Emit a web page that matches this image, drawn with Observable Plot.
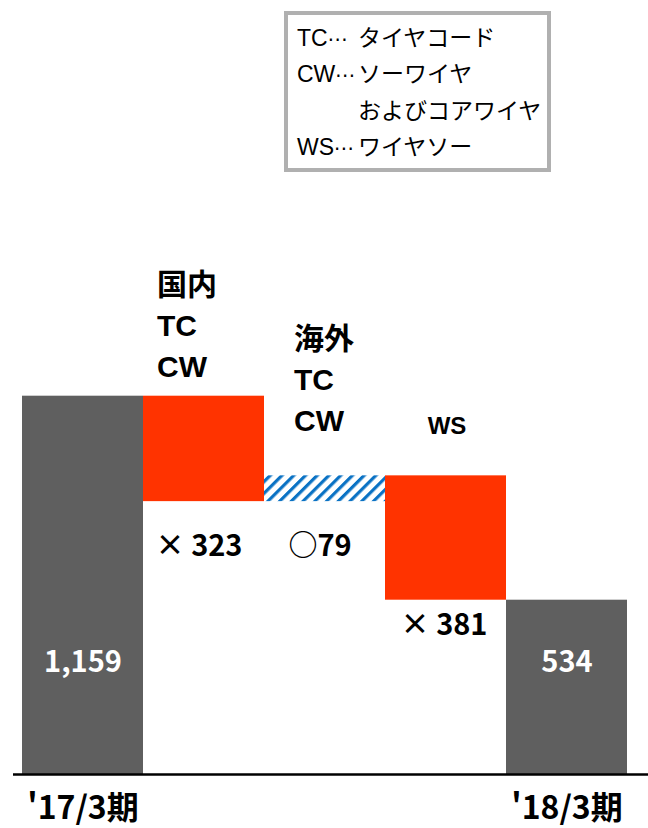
<!DOCTYPE html>
<html lang="ja">
<head>
<meta charset="utf-8">
<script src="https://cdn.jsdelivr.net/npm/d3@7"></script>
<script src="https://cdn.jsdelivr.net/npm/@observablehq/plot@0.6"></script>
<style>
  html, body { margin: 0; padding: 0; background: #fff; }
  #page { width: 648px; }
  #key { position: relative; height: 180px; }
  #key .box {
    position: absolute; left: 284px; top: 11px; width: 267px; height: 161px;
    box-sizing: border-box; border: 4px solid #b0b0b0; background: #fff;
    font: 23px "Liberation Sans", "Noto Sans CJK JP", sans-serif; color: #000;
  }
  #key .line { position: absolute; left: 9px; line-height: 23px; white-space: nowrap; }
  #key .code { display: inline-block; width: 61px; }
  #key .dots { font-family: "DejaVu Sans", sans-serif; font-size: 20px; }
</style>
</head>
<body>
<div id="page">
  <div id="key"><div class="box"></div></div>
  <div id="chart"></div>
</div>
<script>
// Waterfall of the change between the two fiscal periods
const steps = ["'17/3期", "国内TC・CW", "海外TC・CW", "WS", "'18/3期"];
const tickLabels = ["'17/3期", "", "", "", "'18/3期"];
const amounts = [1159, -323, 79, -381, 534];
const isTotal = [true, false, false, false, true];
const notes = ["", "国内\nTC\nCW", "海外\nTC\nCW", "WS", ""];

// Abbreviation key
const legendCodes = ["TC", "CW", "WS"];
const legendNames = [["タイヤコード"], ["ソーワイヤ", "およびコアワイヤ"], ["ワイヤソー"]];

// Key box
const box = document.querySelector("#key .box");
let lineNo = 0;
legendCodes.forEach((code, i) => {
  legendNames[i].forEach((name, j) => {
    const line = document.createElement("div");
    line.className = "line";
    line.style.top = (11.5 + lineNo * 36.6) + "px";
    const head = document.createElement("span");
    head.className = "code";
    if (j === 0) {
      head.append(code);
      const dots = document.createElement("span");
      dots.className = "dots";
      dots.textContent = "⋯";
      head.append(dots);
    }
    line.append(head, name);
    box.append(line);
    lineNo++;
  });
});

// Running levels for each step
let level = 0;
const rows = steps.map((step, i) => {
  const amount = amounts[i];
  const start = isTotal[i] ? 0 : level;
  const end = isTotal[i] ? amount : level + amount;
  level = end;
  return {
    step, amount,
    kind: isTotal[i] ? "total" : amount < 0 ? "down" : "up",
    start, end,
    low: Math.min(start, end), high: Math.max(start, end),
    note: notes[i],
    label: isTotal[i] ? d3.format(",")(amount) : (amount < 0 ? "× " : "○") + Math.abs(amount)
  };
});
const tickOf = new Map(steps.map((s, i) => [s, tickLabels[i]]));
const byStep = s => rows.filter(d => d.step === s);

const jp = "'Noto Sans CJK JP', sans-serif";
const latin = "'Liberation Sans', 'Noto Sans CJK JP', sans-serif";

const chart = Plot.plot({
  width: 648,
  height: 648,
  marginTop: 0,
  marginRight: 0,
  marginBottom: 54,
  marginLeft: 13,
  style: {background: "#fff", fontFamily: jp, overflow: "visible"},
  x: {type: "band", domain: steps, range: [21, 627], padding: 0, label: null},
  y: {domain: [0, d3.max(rows, d => d.high)], range: [594, 215.7], axis: null},
  marks: [
    Plot.barY(rows.filter(d => d.kind === "total"), {x: "step", y1: "start", y2: "end", fill: "#5f5f5f"}),
    Plot.barY(rows.filter(d => d.kind === "down"), {x: "step", y1: "start", y2: "end", fill: "#ff3300"}),
    Plot.barY(rows.filter(d => d.kind === "up"), {x: "step", y1: "start", y2: "end", fill: "url(#hatch)"}),
    Plot.ruleY([0], {stroke: "#000", strokeWidth: 2.5}),
    Plot.axisX({
      label: null, tickSize: 0, tickPadding: 21.3, fontSize: 32, fontWeight: "bold",
      fontFamily: jp, tickFormat: d => tickOf.get(d)
    }),
    // values inside the period bars
    Plot.text(rows.filter(d => d.kind === "total"), {
      x: "step", y: 0, dy: -103, text: "label", fill: "#fff",
      fontSize: 29, fontWeight: "bold", fontFamily: jp, lineAnchor: "bottom"
    }),
    // values under the change bars
    Plot.text(rows.filter(d => d.kind !== "total" && d.step !== "WS"), {
      x: "step", y: "low", dy: 54, dx: -5, text: "label",
      fontSize: 29, fontWeight: "bold", fontFamily: jp, lineAnchor: "bottom"
    }),
    Plot.text(byStep("WS"), {
      x: "step", y: "low", dy: 35, dx: -2, text: "label",
      fontSize: 29, fontWeight: "bold", fontFamily: jp, lineAnchor: "bottom"
    }),
    // step names above the change bars
    Plot.text(byStep("国内TC・CW"), {
      x: "step", y: "high", dx: -47, dy: -19, text: "note", textAnchor: "start",
      lineAnchor: "bottom", lineHeight: 1.37, fontSize: 30, fontWeight: "bold", fontFamily: latin
    }),
    Plot.text(byStep("海外TC・CW"), {
      x: "step", y: "high", dx: -31, dy: -45, text: "note", textAnchor: "start",
      lineAnchor: "bottom", lineHeight: 1.37, fontSize: 30, fontWeight: "bold", fontFamily: latin
    }),
    Plot.text(byStep("WS"), {
      x: "step", y: "high", dx: 1, dy: -42, text: "note",
      lineAnchor: "bottom", fontSize: 24, fontWeight: "bold", fontFamily: latin
    })
  ]
});

// Diagonal hatching for the increase bar
const defs = d3.select(chart).insert("defs", ":first-child");
const pattern = defs.append("pattern")
  .attr("id", "hatch")
  .attr("patternUnits", "userSpaceOnUse")
  .attr("width", 8.3)
  .attr("height", 8.3)
  .attr("patternTransform", "rotate(45)");
pattern.append("rect").attr("width", 8.3).attr("height", 8.3).attr("fill", "#fff");
pattern.append("rect").attr("width", 3.2).attr("height", 8.3).attr("fill", "#0a72c4");

document.getElementById("chart").append(chart);
</script>
</body>
</html>
